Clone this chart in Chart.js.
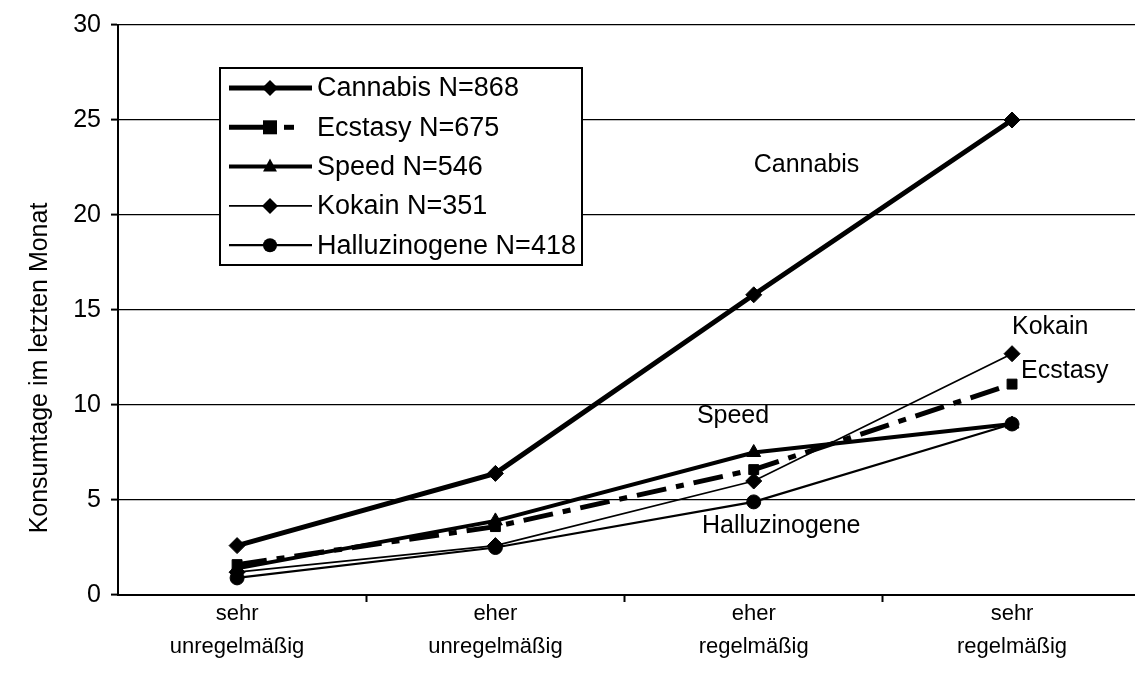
<!DOCTYPE html>
<html>
<head>
<meta charset="utf-8">
<script src="https://cdn.jsdelivr.net/npm/chart.js@4.4.1/dist/chart.umd.min.js"></script>
<style>
html,body{margin:0;padding:0;background:#fff;}
#wrap{width:1135px;height:679px;position:relative;}
</style>
</head>
<body>
<div id="wrap"><canvas id="c" width="1135" height="679"></canvas></div>
<script>
// ---- data ----
const categories = [["sehr","unregelmäßig"],["eher","unregelmäßig"],["eher","regelmäßig"],["sehr","regelmäßig"]];
const seriesNames = ["Cannabis N=868","Ecstasy N=675","Speed N=546","Kokain N=351","Halluzinogene N=418"];
const cannabis = [2.6, 6.4, 15.8, 25.0];
const ecstasy = [1.6, 3.6, 6.6, 11.1];
const speed = [1.4, 3.9, 7.5, 9.0];
const kokain = [1.2, 2.6, 6.0, 12.7];
const halluzinogene = [0.9, 2.5, 4.9, 9.0];
const yTicks = [0, 5, 10, 15, 20, 25, 30];
const yTitle = "Konsumtage im letzten Monat";

// in-plot labels (category position, value)
const annotations = [
  {text: "Cannabis", x: 2.0, y: 22.6},
  {text: "Kokain", x: 3.0, y: 14.1},
  {text: "Ecstasy", x: 3.035, y: 11.8},
  {text: "Speed", x: 1.78, y: 9.4},
  {text: "Halluzinogene", x: 1.8, y: 3.6}
];

const FONT = '"Liberation Sans", Arial, sans-serif';
const styles = [
  {w: 5, dash: [], pt: 'rectRot', r: 8},
  {w: 5, dash: [30, 10, 8, 10], pt: 'rect', r: 7},
  {w: 4, dash: [], pt: 'triangle', r: 8},
  {w: 1.8, dash: [], pt: 'rectRot', r: 8},
  {w: 2.2, dash: [], pt: 'circle', r: 7}
];
const allSeries = [cannabis, ecstasy, speed, kokain, halluzinogene];

const datasets = allSeries.map((vals, s) => ({
  label: seriesNames[s],
  data: vals.map((v, i) => ({x: i, y: v})),
  borderColor: '#000',
  backgroundColor: '#000',
  borderWidth: styles[s].w,
  borderDash: styles[s].dash,
  pointStyle: styles[s].pt,
  pointRadius: styles[s].r,
  pointBorderWidth: 1,
  pointBackgroundColor: '#000',
  pointBorderColor: '#000',
  tension: 0,
  fill: false,
  clip: false
}));

function drawMarker(ctx, style, r, x, y) {
  ctx.save();
  ctx.fillStyle = '#000';
  ctx.beginPath();
  if (style === 'rectRot') {
    ctx.moveTo(x, y - r); ctx.lineTo(x + r, y); ctx.lineTo(x, y + r); ctx.lineTo(x - r, y); ctx.closePath();
  } else if (style === 'rect') {
    ctx.rect(x - r, y - r, r * 2, r * 2);
  } else if (style === 'triangle') {
    ctx.moveTo(x, y - r); ctx.lineTo(x + r * 0.87, y + r * 0.6); ctx.lineTo(x - r * 0.87, y + r * 0.6); ctx.closePath();
  } else {
    ctx.arc(x, y, r, 0, Math.PI * 2);
  }
  ctx.fill();
  ctx.restore();
}

const overlayPlugin = {
  id: 'overlay',
  afterDraw(chart) {
    const ctx = chart.ctx;
    const xs = chart.scales.x, ys = chart.scales.y;
    // annotations
    ctx.save();
    ctx.fillStyle = '#000';
    ctx.font = '25px ' + FONT;
    ctx.textBaseline = 'middle';
    ctx.textAlign = 'left';
    annotations.forEach(a => {
      ctx.fillText(a.text, xs.getPixelForValue(a.x), ys.getPixelForValue(a.y));
    });
    // legend box
    const bx = 220, by = 68, bw = 362, bh = 197;
    ctx.lineWidth = 2;
    ctx.strokeStyle = '#000';
    ctx.fillStyle = '#fff';
    ctx.fillRect(bx, by, bw, bh);
    ctx.strokeRect(bx, by, bw, bh);
    ctx.font = '27px ' + FONT;
    seriesNames.forEach((name, i) => {
      const y = by + 20 + i * 39.3;
      const st = styles[i];
      ctx.save();
      ctx.lineWidth = st.w;
      ctx.strokeStyle = '#000';
      if (i === 1) {
        ctx.beginPath(); ctx.moveTo(229, y); ctx.lineTo(268, y); ctx.stroke();
        ctx.beginPath(); ctx.moveTo(284, y); ctx.lineTo(294, y); ctx.stroke();
      } else {
        ctx.beginPath(); ctx.moveTo(229, y); ctx.lineTo(312, y); ctx.stroke();
      }
      ctx.restore();
      drawMarker(ctx, st.pt, st.r, 270, y);
      ctx.fillStyle = '#000';
      ctx.fillText(name, 317, y + 1);
    });
    // y axis title
    ctx.save();
    ctx.translate(40, 368);
    ctx.rotate(-Math.PI / 2);
    ctx.textAlign = 'center';
    ctx.textBaseline = 'middle';
    ctx.font = '25px ' + FONT;
    ctx.fillText(yTitle, 0, 0);
    ctx.restore();
    ctx.restore();
  }
};

new Chart(document.getElementById('c'), {
  type: 'line',
  data: {datasets},
  options: {
    responsive: false,
    animation: false,
    devicePixelRatio: 1,
    layout: {autoPadding: false, padding: {top: 20, right: 0, bottom: 0, left: 0}},
    plugins: {legend: {display: false}, tooltip: {enabled: false}},
    scales: {
      x: {
        type: 'linear',
        min: -0.461,
        max: 3.476,
        afterFit(scale) { scale.height = 84; scale.paddingRight = 0; scale.paddingLeft = 0; },
        afterBuildTicks(scale) {
          scale.ticks = [0, 0.5, 1, 1.5, 2, 2.5, 3].map(v => ({value: v}));
        },
        grid: {
          drawOnChartArea: false,
          drawTicks: true,
          tickLength: 7,
          tickWidth: 2,
          tickColor: ctx => (ctx.tick && Number.isInteger(ctx.tick.value)) ? 'rgba(0,0,0,0)' : '#000'
        },
        border: {display: true, color: '#000', width: 2},
        ticks: {
          autoSkip: false,
          maxRotation: 0,
          minRotation: 0,
          padding: -5,
          color: '#000',
          font: {family: FONT, size: 22, lineHeight: 1.5},
          callback: v => Number.isInteger(v) ? categories[v] : ''
        }
      },
      y: {
        min: 0,
        max: 30,
        afterFit(scale) { scale.width = 118; },
        afterBuildTicks(scale) { scale.ticks = yTicks.map(v => ({value: v})); },
        grid: {color: '#000', lineWidth: 1.2, tickLength: 7, tickWidth: 2, tickColor: '#000'},
        border: {display: true, color: '#000', width: 2},
        ticks: {color: '#000', padding: 10, font: {family: FONT, size: 25}}
      }
    }
  },
  plugins: [overlayPlugin]
});
</script>
</body>
</html>
